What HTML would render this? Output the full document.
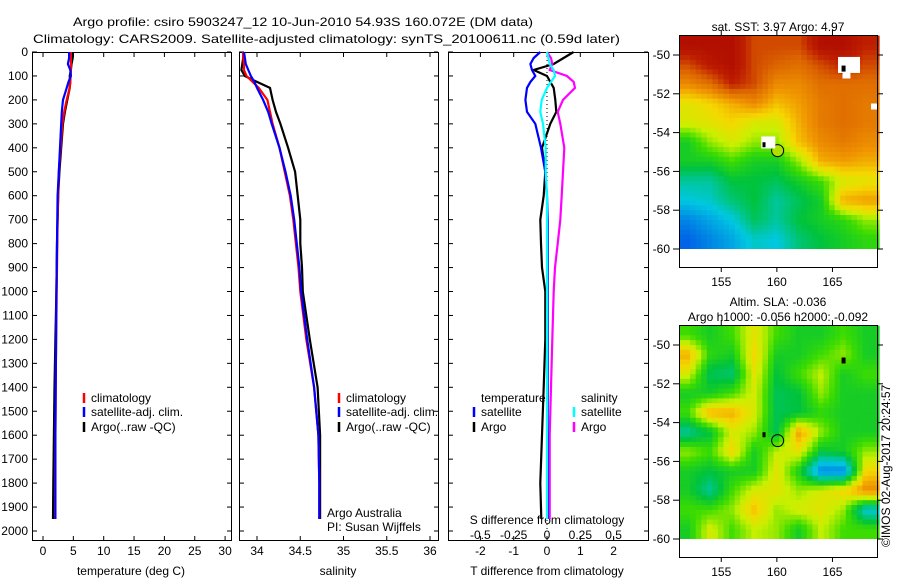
<!DOCTYPE html>
<html><head><meta charset="utf-8"><style>
body{margin:0;background:#fff}
svg{display:block;font-family:"Liberation Sans",sans-serif}
text{font-size:12px;fill:#000}
</style></head><body>
<svg id="c" width="900" height="580" xmlns="http://www.w3.org/2000/svg"></svg>
<script>
const depths=[0,25,50,75,100,125,150,200,250,300,400,500,600,700,800,900,1000,1200,1400,1600,1800,1950];
const tempClim=[4.6,4.6,4.6,4.6,4.55,4.5,4.4,3.9,3.5,3.2,2.9,2.6,2.5,2.4,2.35,2.3,2.25,2.15,2.1,2.05,2.0,2.0];
const tempSat=[4.3,4.3,4.1,4.5,4.6,4.2,3.9,3.3,3.1,3.0,2.8,2.6,2.4,2.35,2.3,2.25,2.2,2.15,2.1,2.05,2.05,2.05];
const tempArgo=[4.95,4.9,4.7,4.6,4.4,4.5,4.4,4.0,3.6,3.3,3.0,2.7,2.5,2.4,2.3,2.25,2.2,2.05,1.9,1.8,1.7,1.65];
const salClim=[33.84,33.84,33.85,33.85,33.88,33.95,34.02,34.12,34.15,34.18,34.26,34.32,34.38,34.42,34.45,34.48,34.5,34.57,34.66,34.71,34.72,34.72];
const salSat=[33.85,33.86,33.87,33.9,33.93,33.97,34.0,34.07,34.13,34.17,34.26,34.33,34.39,34.43,34.46,34.49,34.51,34.58,34.66,34.71,34.72,34.72];
const salArgo=[33.84,33.84,33.83,33.82,33.86,34.0,34.15,34.18,34.22,34.27,34.36,34.44,34.47,34.5,34.5,34.52,34.53,34.61,34.7,34.73,34.73,34.73];
const tDiffSat=[-0.2,-0.4,-0.5,-0.45,-0.35,-0.5,-0.6,-0.65,-0.6,-0.35,-0.18,-0.05,0.0,0.02,0.02,0.02,0.02,0.02,0.02,0.02,0.02,0.02];
const tDiffArgo=[0.8,0.5,0.2,-0.4,0.0,0.1,0.2,0.25,0.28,0.1,-0.15,-0.05,-0.1,-0.2,-0.18,-0.15,-0.05,-0.05,-0.1,-0.15,-0.2,-0.17];
const sDiffSat=[0.0,0.01,0.02,0.05,0.06,0.03,0.0,-0.04,-0.05,-0.03,-0.01,-0.01,0,0,0,0,0,0,0,0,0,0];
const sDiffArgo=[0.0,0.03,0.04,0.02,0.15,0.2,0.21,0.12,0.08,0.1,0.13,0.12,0.11,0.1,0.08,0.06,0.05,0.04,0.03,0.02,0.02,0.02];
const depthTicks=[0,100,200,300,400,500,600,700,800,900,1000,1100,1200,1300,1400,1500,1600,1700,1800,1900,2000];
const tempTicks=[0,5,10,15,20,25,30];
const salTicks=[34,34.5,35,35.5,36];
const tDiffTicks=[-2,-1,0,1,2];
const sDiffTicks=["-0.5","-0.25","0","0.25","0.5"];
const mapLons=[152,154,156,158,160,162,164,166,168];
const mapLats=[-49.5,-50.5,-51.5,-52.5,-53.5,-54.5,-55.5,-56.5,-57.5,-58.5,-59.5];
const sstGrid=[
[0.95,0.95,0.95,0.85,0.85,0.85,0.95,0.95,0.9],
[0.85,0.92,0.95,0.85,0.82,0.8,0.85,0.9,0.85],
[0.75,0.8,0.9,0.85,0.75,0.75,0.8,0.8,0.8],
[0.62,0.65,0.7,0.75,0.68,0.72,0.78,0.8,0.78],
[0.6,0.62,0.65,0.6,0.6,0.7,0.78,0.8,0.78],
[0.45,0.55,0.6,0.55,0.55,0.68,0.75,0.78,0.75],
[0.45,0.45,0.5,0.45,0.45,0.55,0.7,0.72,0.7],
[0.35,0.35,0.42,0.42,0.4,0.45,0.5,0.6,0.62],
[0.3,0.32,0.38,0.42,0.35,0.4,0.45,0.7,0.72],
[0.2,0.25,0.3,0.4,0.35,0.42,0.45,0.48,0.55],
[0.15,0.2,0.25,0.32,0.3,0.38,0.42,0.45,0.48]];
const slaGrid=[
[0.5,0.45,0.5,0.62,0.5,0.45,0.45,0.5,0.45],
[0.7,0.48,0.45,0.65,0.45,0.45,0.5,0.55,0.45],
[0.6,0.4,0.38,0.62,0.42,0.5,0.58,0.45,0.5],
[0.45,0.45,0.5,0.6,0.4,0.42,0.55,0.45,0.45],
[0.5,0.7,0.7,0.6,0.4,0.42,0.48,0.45,0.45],
[0.35,0.42,0.6,0.55,0.4,0.72,0.55,0.45,0.45],
[0.55,0.5,0.65,0.45,0.58,0.62,0.42,0.45,0.55],
[0.45,0.42,0.45,0.45,0.62,0.45,0.2,0.2,0.65],
[0.45,0.35,0.5,0.6,0.62,0.55,0.6,0.65,0.75],
[0.5,0.5,0.55,0.68,0.55,0.6,0.62,0.55,0.3],
[0.45,0.6,0.5,0.58,0.55,0.45,0.58,0.5,0.5]];

const svg=document.getElementById('c');
const NS='http://www.w3.org/2000/svg';
function el(tag,attrs,parent){const e=document.createElementNS(NS,tag);for(const k in attrs)e.setAttribute(k,attrs[k]);(parent||svg).appendChild(e);return e;}
function txt(x,y,s,anchor,parent,size){const t=el('text',{x:x,y:y,'text-anchor':anchor||'start'},parent);if(size)t.setAttribute('font-size',size);t.textContent=s;return t;}

const yD=d=>52+d*0.2395;
let t=el('text',{x:73,y:26,textLength:460,lengthAdjust:'spacingAndGlyphs','font-size':'14'});
t.textContent='Argo profile: csiro 5903247_12 10-Jun-2010 54.93S 160.072E (DM data)';

t=el('text',{x:33,y:43,textLength:587,lengthAdjust:'spacingAndGlyphs','font-size':'14'});
t.textContent='Climatology: CARS2009. Satellite-adjusted climatology: synTS_20100611.nc (0.59d later)';


function panel(name,x0,x1){
  const g=el('g',{});
  el('rect',{x:x0+0.5,y:52.5,width:x1-x0,height:488,fill:'none',stroke:'#000','stroke-width':1},g);
  depthTicks.forEach(d=>{const y=yD(d);el('line',{x1:x0,x2:x0+5,y1:y,y2:y,stroke:'#000'},g);el('line',{x1:x1-4,x2:x1,y1:y,y2:y,stroke:'#000'},g);});
  return g;
}
function xticks(g,vals,fx,y0,y1,labY){vals.forEach(v=>{const x=fx(v);el('line',{x1:x,x2:x,y1:52,y2:57,stroke:'#000'},g);el('line',{x1:x,x2:x,y1:536,y2:541,stroke:'#000'},g);if(labY)txt(x,labY,String(v),'middle',g);});}
function line(g,xs,fx,color,name,w){
  const p=xs.map((v,i)=>fx(v).toFixed(1)+','+yD(depths[i]).toFixed(1)).join(' ');
  const pl=el('polyline',{points:p,fill:'none',stroke:color,'stroke-width':w||2.2},g);
  
}
function legend(g,x,y,color,label,name){
  el('line',{x1:x,x2:x,y1:y-9,y2:y+1,stroke:color,'stroke-width':2.5},g);
  const tt=txt(x+7,y,label,'start',g);
}
const fT=v=>43+v*6.07;
let g1=panel('temperature-panel',32,231);
depthTicks.forEach(d=>txt(28,yD(d)+4,String(d),'end',g1));
xticks(g1,tempTicks,fT,0,0,555);
txt(131,575,'temperature (deg C)','middle',g1);
line(g1,tempArgo,fT,'#000','temp-argo-line');
line(g1,tempClim,fT,'#f00','temp-climatology-line');
line(g1,tempSat,fT,'#00f','temp-satellite-line');
legend(g1,84,402,'#f00','climatology','legend-climatology');
legend(g1,84,416,'#00f','satellite-adj. clim.','legend-satellite');
legend(g1,84,431,'#000','Argo(..raw -QC)','legend-argo');
const fS=v=>257+(v-34)*86.5;
let g2=panel('salinity-panel',239,438);
xticks(g2,salTicks,fS,0,0,555);
txt(338,575,'salinity','middle',g2);
line(g2,salArgo,fS,'#000','sal-argo-line');
line(g2,salClim,fS,'#f00','sal-climatology-line');
line(g2,salSat,fS,'#00f','sal-satellite-line');
legend(g2,339,402,'#f00','climatology','legend-climatology-2');
legend(g2,339,416,'#00f','satellite-adj. clim.','legend-satellite-2');
legend(g2,339,431,'#000','Argo(..raw -QC)','legend-argo-2');
txt(327,517,'Argo Australia','start',g2);
txt(327,531,'PI: Susan Wijffels','start',g2);
const fTD=v=>547+v*33.3;
const fSD=v=>547+v*133.3;
let g3=panel('difference-panel',448,648);
xticks(g3,tDiffTicks,fTD,0,0,555);
sDiffTicks.forEach(s=>txt(fSD(parseFloat(s)),539,s,'middle',g3));
txt(547,524,'S difference from climatology','middle',g3);
txt(547,575,'T difference from climatology','middle',g3);
el('line',{x1:547,x2:547,y1:60,y2:530,stroke:'#000','stroke-dasharray':'1,3'},g3);
line(g3,tDiffArgo,fTD,'#000','tdiff-argo-line');
line(g3,sDiffArgo,fSD,'#f0f','sdiff-argo-line');
line(g3,tDiffSat,fTD,'#00f','tdiff-satellite-line');
line(g3,sDiffSat,fSD,'#0ff','sdiff-satellite-line');
txt(481,402,'temperature','start',g3);
legend(g3,474,416,'#00f','satellite','legend-t-satellite');
legend(g3,474,431,'#000','Argo','legend-t-argo');
txt(581,402,'salinity','start',g3);
legend(g3,574,416,'#0ff','satellite','legend-s-satellite');
legend(g3,574,431,'#f0f','Argo','legend-s-argo');

const stops=[[0,[0,40,190]],[0.15,[0,100,230]],[0.3,[0,200,225]],[0.42,[0,195,60]],[0.5,[60,220,0]],[0.58,[200,240,0]],[0.65,[245,215,0]],[0.73,[240,150,0]],[0.82,[220,100,0]],[0.9,[190,30,0]],[1,[165,0,0]]];
function cmap(v){v=Math.max(0,Math.min(1,v));for(let i=1;i<stops.length;i++){if(v<=stops[i][0]){const a=stops[i-1],b=stops[i],f=(v-a[0])/(b[0]-a[0]);return 'rgb('+a[1].map((c,k)=>Math.round(c+(b[1][k]-c)*f)).join(',')+')';}}return 'rgb(165,0,0)';}
function sample(grid,lon,lat){
  let fi=(lon-mapLons[0])/2, fj=(mapLats[0]-lat)/1;
  fi=Math.max(0,Math.min(mapLons.length-1.001,fi));fj=Math.max(0,Math.min(mapLats.length-1.001,fj));
  const i=Math.floor(fi),j=Math.floor(fj),a=fi-i,b=fj-j;
  return grid[j][i]*(1-a)*(1-b)+grid[j][i+1]*a*(1-b)+grid[j+1][i]*(1-a)*b+grid[j+1][i+1]*a*b;
}
function map(name,grid,top,titles,fillCircle){
  const g=el('g',{});
  const lx=lon=>679+(lon-151.2)*11.12, ly=lat=>top+20-(lat+50)*19.4;
  for(let lat=-49;lat>-60;lat-=0.25){for(let lon=151.2;lon<169;lon+=0.5){
    const v=sample(grid,lon+0.25,lat-0.125);
    el('rect',{x:lx(lon).toFixed(1),y:ly(lat).toFixed(1),width:6,height:5.3,fill:cmap(v)},g);}}
  el('rect',{x:679,y:ly(-60),width:198,height:top+232-ly(-60),fill:'#fff'},g);
  el('rect',{x:679.5,y:top+0.5,width:198,height:232,fill:'none',stroke:'#000'},g);
  [-50,-52,-54,-56,-58,-60].forEach(l=>{const y=ly(l);el('line',{x1:673,x2:679,y1:y,y2:y,stroke:'#000'},g);el('line',{x1:877,x2:883,y1:y,y2:y,stroke:'#000'},g);txt(675-5,y+4,String(l),'end',g);});
  [155,160,165].forEach(l=>{const x=lx(l);el('line',{x1:x,x2:x,y1:top-5,y2:top,stroke:'#000'},g);el('line',{x1:x,x2:x,y1:top+232,y2:top+237,stroke:'#000'},g);txt(x,top+251,String(l),'middle',g);});
  titles.forEach((s,i)=>txt(778,top-15*(titles.length-i)+11,s,'middle',g));
  const c=el('circle',{cx:lx(160.07),cy:ly(-54.93),r:6,fill:fillCircle||'none',stroke:'#000'},g);
  
  el('rect',{x:lx(158.8)-1,y:ly(-54.6)-2,width:3,height:5,fill:'#000'},g);
  el('rect',{x:lx(166)-2,y:ly(-50.8)-3,width:4,height:6,fill:'#000'},g);
  return {g,lx,ly};
}
const m1=map('sst-map',sstGrid,35,['sat. SST: 3.97 Argo: 4.97'],'#b0e000');
el('rect',{x:m1.lx(165.5),y:m1.ly(-50.1),width:22,height:16,fill:'#fff'},m1.g);
el('rect',{x:m1.lx(165.9),y:m1.ly(-50.8),width:8,height:8,fill:'#fff'},m1.g);
el('rect',{x:m1.lx(166)-2,y:m1.ly(-50.7)-3,width:4,height:6,fill:'#000'},m1.g);
el('rect',{x:m1.lx(158.6),y:m1.ly(-54.2),width:14,height:12,fill:'#fff'},m1.g);
el('rect',{x:m1.lx(158.8)-1,y:m1.ly(-54.6)-2,width:3,height:5,fill:'#000'},m1.g);
el('rect',{x:871,y:m1.ly(-52.5),width:6,height:6,fill:'#fff'},m1.g);
map('sla-map',slaGrid,325,['Altim. SLA: -0.036','Argo h1000: -0.056 h2000: -0.092']);
const cr=el('text',{x:0,y:0,transform:'translate(890,547) rotate(-90)'});
cr.textContent='©IMOS 02-Aug-2017 20:24:57';

</script>
</body></html>
